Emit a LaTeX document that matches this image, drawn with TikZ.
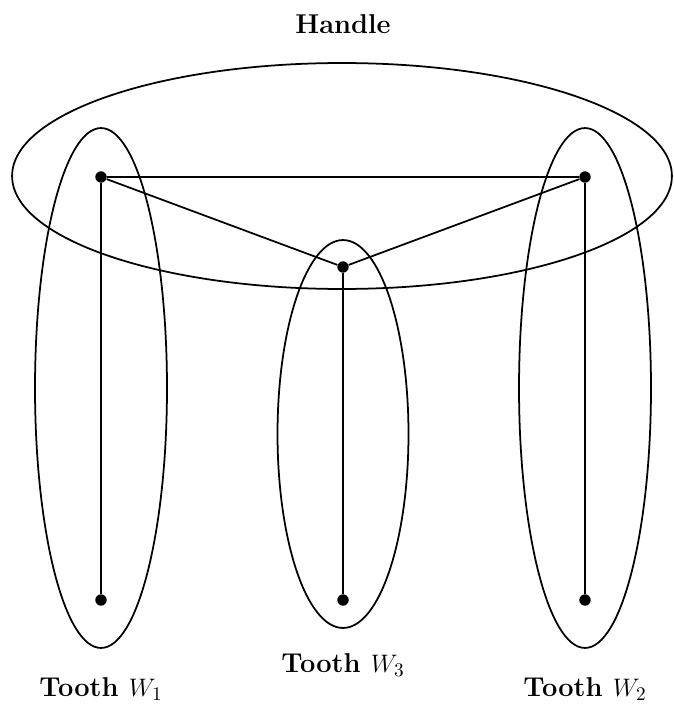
\documentclass[tikz,border=0pt]{standalone}
\usepackage{tikz}
\usetikzlibrary{shapes.geometric}
\begin{document}
\begin{tikzpicture}[x=0.02cm, y=-0.02cm,
  set/.style={draw, ellipse, line width=1pt, inner sep=0pt},
  vtx/.style={circle, fill, inner sep=0pt, minimum size=6.5pt},
  edge/.style={line width=1pt},
  lab/.style={font=\fontsize{15.5}{19}\selectfont\bfseries}]
\useasboundingbox (0,0) rectangle (673,706);
% handle and teeth
\node[set, minimum width=13.2cm, minimum height=4.52cm] (handle) at (342,176) {};
\node[set, minimum width=2.64cm, minimum height=10.4cm] (w1) at (101,388) {};
\node[set, minimum width=2.62cm, minimum height=7.76cm] (w3) at (343,434) {};
\node[set, minimum width=2.64cm, minimum height=10.4cm] (w2) at (585,388) {};
% vertices
\node[vtx] (a1) at (101,177) {};
\node[vtx] (a2) at (585,177) {};
\node[vtx] (a3) at (343,267) {};
\node[vtx] (b1) at (101,600) {};
\node[vtx] (b2) at (585,600) {};
\node[vtx] (b3) at (343,600) {};
\draw[edge] (a1) -- (a2); \draw[edge] (a1) -- (a3); \draw[edge] (a2) -- (a3);
\draw[edge] (a1) -- (b1); \draw[edge] (a2) -- (b2); \draw[edge] (a3) -- (b3);
% labels
\node[lab] (lh) at (343,24) {Handle};
\node[lab] (l1) at (101,689) {Tooth $W_1$};
\node[lab] (l3) at (343,665) {Tooth $W_3$};
\node[lab] (l2) at (585,689) {Tooth $W_2$};
\end{tikzpicture}
\end{document}
